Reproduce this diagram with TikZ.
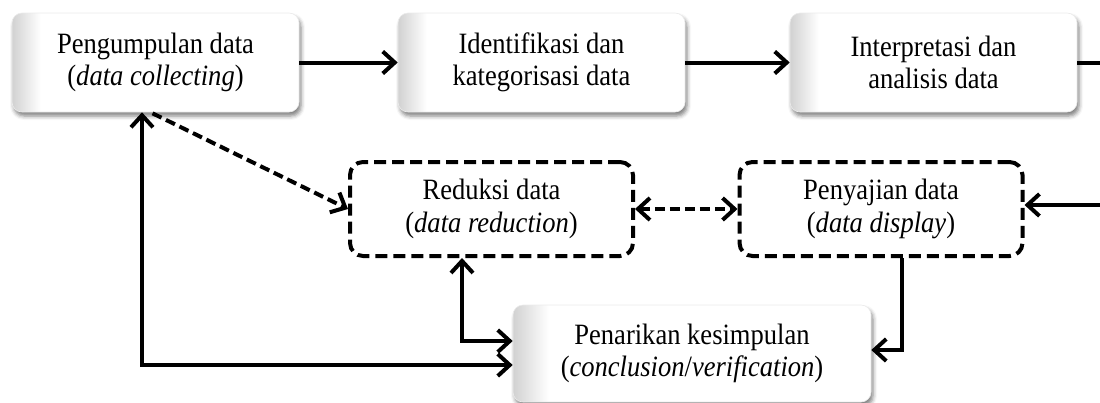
\documentclass[tikz,border=0pt]{standalone}
\usepackage{fontspec}
\setmainfont{Liberation Serif}[FakeStretch=0.9]
\usetikzlibrary{arrows.meta,shadows.blur,calc}
\pgfdeclarehorizontalshading{bevel}{100bp}{color(0bp)=(black!18); color(25bp)=(black!18); color(30bp)=(white); color(100bp)=(white)}
\newcommand\boxfont{\fontsize{29.5}{32.5}\selectfont}
\begin{document}
\begin{tikzpicture}[x=1pt,y=-1pt,
  sbox/.style={rounded corners=10pt, minimum width=287pt, minimum height=99pt,
    inner sep=0pt, align=center, draw=black!8, line width=0.6pt, shading=bevel,
    blur shadow={shadow xshift=2pt, shadow yshift=-4pt, shadow blur radius=4pt, shadow opacity=50},
    font=\boxfont},
  dbox/.style={rounded corners=13pt, draw=black, line width=4pt,
    dash pattern=on 12pt off 6pt, minimum width=283pt, minimum height=94pt,
    inner sep=0pt, align=center, font=\boxfont},
  tip/.style={Straight Barb[length=12pt,width=22pt]},
  arr/.style={line width=4pt, -{Straight Barb[length=12pt,width=22pt]}},
  darr/.style={arr, dash pattern=on 10pt off 5pt}]
\useasboundingbox (0,0) rectangle (1100,402);
\clip (0,0) rectangle (1100,402);
\node[sbox] (b1) at (155.5,62.5) {Pengumpulan data\\(\textit{data collecting})};
\node[sbox] (b2) at (541.5,62.5) {Identifikasi dan\\kategorisasi data};
\node[sbox] (b3) at (933.5,62.5) {Interpretasi dan\\analisis data};
\node[dbox] (red) at (491.5,209) {Reduksi data\\(\textit{data reduction})};
\node[dbox] (pen) at (881,209) {Penyajian data\\(\textit{data display})};
\node[sbox, minimum width=358pt, minimum height=97pt] (pk) at (692,353.5) {Penarikan kesimpulan\\(\textit{conclusion}/\textit{verification})};
\draw[arr] (b1.east) -- (b2.west);
\draw[arr] (b2.east) -- (b3.west);
\coordinate (rc) at ($(b3.east)+(40,0)$);
\draw[arr] (b3.east) -- (rc) |- ($(pen.east)+(0,-4)$);
\draw[darr] ($(b1.south)+(-3,1)$) -- (red.west);
\draw[darr, {Straight Barb[length=12pt,width=22pt]}-{Straight Barb[length=12pt,width=22pt]}] (red.east) -- (pen.west);
\draw[arr, {Straight Barb[length=12pt,width=22pt]}-{Straight Barb[length=12pt,width=22pt]}] ($(b1.south)+(-13.5,0)$) |- ($(pk.west)+(0,11.5)$);
\draw[arr, {Straight Barb[length=12pt,width=22pt]}-{Straight Barb[length=12pt,width=22pt]}] ($(red.south)+(-29.5,0)$) |- ($(pk.west)+(0,-12.5)$);
\draw[arr] ($(pen.south)+(21,0)$) |- ($(pk.east)+(0,-3.5)$);
\end{tikzpicture}
\end{document}
